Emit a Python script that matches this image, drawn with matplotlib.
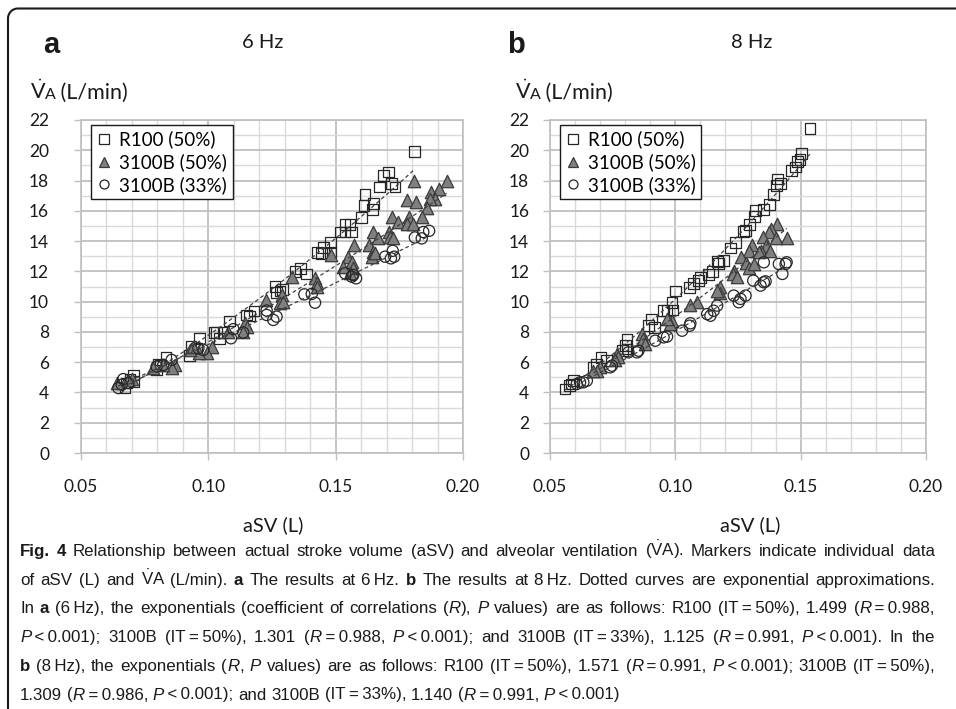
import re
import numpy as np
import matplotlib
matplotlib.use("Agg")
import matplotlib.pyplot as plt
from matplotlib.lines import Line2D

# ---------------- data ----------------
a_r100_x = [0.1809, 0.1707, 0.1687, 0.1671, 0.1733, 0.1720, 0.1615, 0.1611, 0.1648, 0.1645,
            0.1600, 0.1537, 0.1556, 0.1517, 0.1537, 0.1563, 0.1480, 0.1452, 0.1428, 0.1445,
            0.1480, 0.1363, 0.1340, 0.1386, 0.1262, 0.1281, 0.1292, 0.1268, 0.1150, 0.1163,
            0.1179, 0.1082, 0.1033, 0.1022, 0.1043, 0.1058, 0.0965, 0.0932, 0.0925, 0.0954,
            0.0834, 0.0804, 0.0797, 0.0810, 0.0705, 0.0708, 0.0673, 0.0680, 0.0692]
a_r100_y = [19.90, 18.57, 18.35, 17.58, 17.58, 17.80, 17.10, 16.37, 16.48, 16.10,
            15.56, 15.10, 15.10, 14.60, 14.60, 14.60, 13.90, 13.56, 13.23, 13.20,
            13.23, 12.20, 11.98, 11.82, 11.00, 10.70, 10.80, 10.60, 9.12, 9.05,
            9.38, 8.72, 7.98, 7.98, 7.54, 7.98, 7.54, 7.03, 6.42, 6.92,
            6.33, 5.87, 5.49, 5.80, 5.16, 4.73, 4.29, 4.62, 4.84]

a_b50_x = [0.1936, 0.1809, 0.1874, 0.1907, 0.1890, 0.1870, 0.1857, 0.1779, 0.1815, 0.1720,
           0.1789, 0.1838, 0.1744, 0.1779, 0.1802, 0.1648, 0.1709, 0.1668, 0.1713, 0.1726,
           0.1572, 0.1631, 0.1648, 0.1641, 0.1654, 0.1482, 0.1550, 0.1563, 0.1527, 0.1569,
           0.1556, 0.1330, 0.1419, 0.1428, 0.1425, 0.1226, 0.1288, 0.1281, 0.1292, 0.1144,
           0.1150, 0.1135, 0.1079, 0.1013, 0.0993, 0.0965, 0.0928, 0.0941, 0.0869, 0.0856,
           0.0784, 0.0823, 0.0699, 0.0640, 0.0686]
a_b50_y = [18.00, 18.00, 17.25, 17.47, 16.77, 16.80, 16.20, 16.70, 16.60, 15.60,
           15.60, 15.56, 15.27, 15.10, 15.10, 14.60, 14.60, 14.18, 14.29, 14.18,
           13.74, 13.74, 13.30, 12.97, 13.19, 13.08, 12.97, 12.64, 12.31, 12.20,
           11.87, 11.65, 11.54, 11.21, 10.99, 10.11, 10.44, 9.89, 9.99, 8.57,
           8.31, 8.02, 8.02, 6.99, 6.59, 6.59, 6.81, 7.03, 5.82, 5.60,
           5.60, 5.82, 4.88, 4.62, 4.84]

a_b33_x = [0.1867, 0.1844, 0.1811, 0.1838, 0.1724, 0.1694, 0.1717, 0.1730, 0.1537, 0.1569,
           0.1580, 0.1563, 0.1377, 0.1406, 0.1419, 0.1229, 0.1229, 0.1268, 0.1255, 0.1089,
           0.1098, 0.1137, 0.0961, 0.0980, 0.0856, 0.0823, 0.0797, 0.0666, 0.0647, 0.0686,
           0.0660]
a_b33_y = [14.68, 14.60, 14.24, 14.18, 13.36, 12.97, 12.86, 12.97, 11.87, 11.76,
           11.54, 11.65, 10.48, 10.51, 9.93, 9.41, 9.12, 9.01, 8.79, 7.58,
           8.18, 7.96, 6.92, 6.81, 6.15, 5.82, 5.71, 4.88, 4.29, 4.62,
           4.51]

b_r100_x = [0.1537, 0.1503, 0.1497, 0.1487, 0.1480, 0.1463, 0.1407, 0.1404, 0.1420, 0.1393,
            0.1376, 0.1353, 0.1320, 0.1316, 0.1297, 0.1273, 0.1280, 0.1240, 0.1220, 0.1191,
            0.1173, 0.1167, 0.1147, 0.1131, 0.1100, 0.1093, 0.1073, 0.1057, 0.1000, 0.0987,
            0.0991, 0.0967, 0.0953, 0.0904, 0.0893, 0.0917, 0.0807, 0.0800, 0.0807, 0.0790,
            0.0703, 0.0724, 0.0687, 0.0673, 0.0593, 0.0587, 0.0577, 0.0560]
b_r100_y = [21.45, 19.80, 19.40, 19.27, 18.90, 18.66, 18.10, 17.67, 17.80, 17.10,
            16.40, 16.10, 16.00, 15.60, 15.10, 14.65, 14.70, 13.90, 13.55, 12.70,
            12.50, 12.66, 12.00, 11.80, 11.60, 11.40, 11.20, 10.95, 10.70, 9.96,
            9.45, 9.40, 9.40, 8.86, 8.41, 8.30, 7.53, 7.09, 6.87, 6.76,
            6.32, 6.10, 5.88, 5.66, 4.78, 4.56, 4.45, 4.23]

b_b50_x = [0.1404, 0.1380, 0.1373, 0.1400, 0.1444, 0.1351, 0.1360, 0.1340, 0.1307, 0.1293,
           0.1333, 0.1377, 0.1263, 0.1280, 0.1293, 0.1313, 0.1236, 0.1231, 0.1247, 0.1177,
           0.1180, 0.1167, 0.1087, 0.1060, 0.0987, 0.0980, 0.0967, 0.0867, 0.0873, 0.0880,
           0.0769, 0.0773, 0.0760, 0.0700, 0.0687, 0.0673]
b_b50_y = [15.13, 14.80, 14.58, 14.20, 14.20, 14.25, 13.70, 13.37, 13.74, 13.37,
           13.26, 13.37, 12.97, 12.53, 12.20, 12.49, 12.05, 11.83, 11.60, 10.95,
           10.60, 10.70, 9.96, 9.80, 8.74, 8.52, 8.85, 7.86, 7.53, 7.20,
           6.54, 6.32, 6.14, 5.66, 5.40, 5.44]

b_b33_x = [0.1444, 0.1440, 0.1427, 0.1413, 0.1353, 0.1353, 0.1360, 0.1340, 0.1311, 0.1233,
           0.1260, 0.1253, 0.1280, 0.1167, 0.1153, 0.1140, 0.1127, 0.1057, 0.1060, 0.1027,
           0.0953, 0.0967, 0.0920, 0.0853, 0.0847, 0.0813, 0.0747, 0.0740, 0.0647, 0.0633,
           0.0620, 0.0607]
b_b33_y = [12.60, 12.49, 11.83, 12.49, 12.60, 11.28, 11.34, 11.06, 11.39, 10.40,
           10.18, 9.96, 10.40, 9.74, 9.40, 9.07, 9.18, 8.41, 8.57, 8.08,
           7.64, 7.69, 7.42, 6.76, 6.65, 6.65, 5.77, 5.66, 4.78, 4.67,
           4.67, 4.56]

series_labels = ["R100 (50%)", "3100B (50%)", "3100B (33%)"]
panel_titles = ["6 Hz", "8 Hz"]
panel_letters = ["a", "b"]
xtick_vals = [0.05, 0.10, 0.15, 0.20]
xtick_labels = ["0.05", "0.10", "0.15", "0.20"]
ytick_vals = list(range(0, 23, 2))
xlabel = "aSV (L)"

VDOT = r"$\dot{\mathrm{V}}$"
caption_lines = [
    "**Fig. 4** Relationship between actual stroke volume (aSV) and alveolar ventilation (" + VDOT + "A). Markers indicate individual data",
    "of aSV (L) and " + VDOT + "A (L/min). **a** The results at 6\u2009Hz. **b** The results at 8\u2009Hz. Dotted curves are exponential approximations.",
    "In **a** (6\u2009Hz), the exponentials (coefficient of correlations (*R*), *P* values) are as follows: R100 (IT\u2009=\u200950%), 1.499 (*R*\u2009=\u20090.988,",
    "*P*\u2009<\u20090.001); 3100B (IT\u2009=\u200950%), 1.301 (*R*\u2009=\u20090.988, *P*\u2009<\u20090.001); and 3100B (IT\u2009=\u200933%), 1.125 (*R*\u2009=\u20090.991, *P*\u2009<\u20090.001). In the",
    "**b** (8\u2009Hz), the exponentials (*R*, *P* values) are as follows: R100 (IT\u2009=\u200950%), 1.571 (*R*\u2009=\u20090.991, *P*\u2009<\u20090.001); 3100B (IT\u2009=\u200950%),",
    "1.309 (*R*\u2009=\u20090.986, *P*\u2009<\u20090.001); and 3100B (IT\u2009=\u200933%), 1.140 (*R*\u2009=\u20090.991, *P*\u2009<\u20090.001)",
]

# ---------------- figure ----------------
W, H = 956, 709
plt.rcParams["font.family"] = ["Lato", "DejaVu Sans"]
plt.rcParams["mathtext.fontset"] = "custom"
plt.rcParams["mathtext.rm"] = "Liberation Sans"
plt.rcParams["mathtext.sf"] = "Lato"
plt.rcParams["mathtext.it"] = "Liberation Sans:italic"
fig = plt.figure(figsize=(W / 100, H / 100), dpi=100)
fig.patch.set_facecolor("white")


def fx(px):
    return px / W


def fy(py):
    return 1 - py / H


renderer = fig.canvas.get_renderer()


def text_width(s, **kw):
    t1 = fig.text(0, 0, s + "|", **kw)
    t2 = fig.text(0, 0, "|", **kw)
    w = t1.get_window_extent(renderer).width - t2.get_window_extent(renderer).width
    t1.remove()
    t2.remove()
    return w


def draw_segments(x_px, ybase_px, segments):
    x = x_px
    for s, kw in segments:
        fig.text(fx(x), fy(ybase_px), s, va="baseline", ha="left", **kw)
        x += text_width(s, **kw)
    return x


SQ = dict(marker="s", facecolor="none", edgecolor="#262626", linewidth=0.9)
TR = dict(marker="^", facecolor="#7f7f7f", edgecolor="#3a3a3a", linewidth=0.9)
CI = dict(marker="o", facecolor="none", edgecolor="#262626", linewidth=0.9)


def power_fit_line(ax, x, y):
    x = np.asarray(x)
    y = np.asarray(y)
    b, lnc = np.polyfit(np.log(x), np.log(y), 1)
    xs = np.linspace(x.min(), x.max(), 100)
    ax.plot(xs, np.exp(lnc) * xs ** b, ls=(0, (3, 2.2)), color="#404040", lw=0.9, zorder=5)


def make_panel(rect, data, ypad):
    ax = fig.add_axes(rect)
    ax.set_xlim(0.05, 0.20)
    ax.set_ylim(0, 22)
    ax.set_xticks(xtick_vals)
    ax.set_xticklabels(xtick_labels)
    ax.set_yticks(ytick_vals)
    ax.set_xticks(np.arange(0.05, 0.2001, 0.01), minor=True)
    ax.set_yticks(np.arange(0, 22.01, 1), minor=True)
    ax.grid(which="major", color="#bfbfbf", lw=1.3)
    ax.grid(which="minor", color="#d9d9d9", lw=1.0)
    ax.set_axisbelow(True)
    ax.tick_params(which="minor", length=0)
    ax.tick_params(which="major", length=5, width=1.0, color="#bfbfbf", labelsize=12.5,
                   labelcolor="#1a1a1a")
    ax.tick_params(axis="y", pad=ypad)
    ax.tick_params(axis="x", pad=14)
    for s in ax.spines.values():
        s.set_color("#bfbfbf")
        s.set_linewidth(1.2)
    (rx, ry), (tx, ty), (cx, cy) = data
    ax.scatter(rx, ry, s=60, zorder=3, **SQ)
    ax.scatter(tx, ty, s=80, zorder=3, **TR)
    ax.scatter(cx, cy, s=65, zorder=3, **CI)
    for xx, yy in data:
        power_fit_line(ax, xx, yy)
    handles = [
        Line2D([], [], ls="none", marker="s", ms=6.5, mfc="none", mec="#262626", mew=0.9),
        Line2D([], [], ls="none", marker="^", ms=7.5, mfc="#7f7f7f", mec="#3a3a3a", mew=0.9),
        Line2D([], [], ls="none", marker="o", ms=6.5, mfc="none", mec="#262626", mew=0.9),
    ]
    leg = ax.legend(handles, series_labels, loc="upper left", bbox_to_anchor=(0.026, 0.985),
                    borderaxespad=0, fontsize=13.5, frameon=True, fancybox=False,
                    edgecolor="#1a1a1a", framealpha=1, handlelength=0.8,
                    handletextpad=0.4, labelspacing=0.25, borderpad=0.3)
    leg.get_frame().set_linewidth(1.0)
    leg.set_zorder(10)
    return ax


ax_a = make_panel([fx(81), fy(453), (463 - 81) / W, (453 - 120) / H],
                  [(a_r100_x, a_r100_y), (a_b50_x, a_b50_y), (a_b33_x, a_b33_y)], ypad=18)
ax_b = make_panel([fx(550), fy(453), (926 - 550) / W, (453 - 120) / H],
                  [(b_r100_x, b_r100_y), (b_b50_x, b_b50_y), (b_b33_x, b_b33_y)], ypad=10)

# panel letters and titles
fig.text(fx(43), fy(53), panel_letters[0], fontsize=21, weight="bold", family="Liberation Sans",
         va="baseline", ha="left", color="#1a1a1a")
fig.text(fx(507), fy(53), panel_letters[1], fontsize=21, weight="bold", family="Liberation Sans",
         va="baseline", ha="left", color="#1a1a1a")
fig.text(fx(263), fy(48), panel_titles[0], fontsize=14.5, va="baseline", ha="center", color="#1a1a1a")
fig.text(fx(752), fy(48), panel_titles[1], fontsize=14.5, va="baseline", ha="center", color="#1a1a1a")

# y axis labels
for x0 in (30, 515):
    draw_segments(x0, 99, [
        (r"$\dot{\mathsf{V}}$", dict(fontsize=15.5, color="#1a1a1a")),
        ("A", dict(fontsize=11.5, color="#1a1a1a")),
        (" (L/min)", dict(fontsize=15.5, color="#1a1a1a")),
    ])

# x axis labels
fig.text(fx(273), fy(525), xlabel, fontsize=14.5, ha="center", va="center", color="#1a1a1a")
fig.text(fx(750), fy(525), xlabel, fontsize=14.5, ha="center", va="center", color="#1a1a1a")

# caption (justified lines)
CAP = ["Liberation Sans", "DejaVu Sans"]
CAP_SIZE = 12.2
CAP_LEFT, CAP_RIGHT = 20, 935


def parse(line):
    parts = re.split(r"(\*\*.+?\*\*|\*.+?\*)", line)
    tokens = []
    for p in parts:
        if not p:
            continue
        kw = dict(fontsize=CAP_SIZE, family=CAP, color="#1a1a1a")
        if p.startswith("**"):
            p = p[2:-2]
            kw["weight"] = "bold"
        elif p.startswith("*"):
            p = p[1:-1]
            kw["style"] = "italic"
        words = p.split(" ")
        for j, wd in enumerate(words):
            if j > 0:
                tokens.append((None, kw))
            if wd:
                tokens.append((wd, kw))
    return tokens


def draw_caption_line(ybase, line, justify):
    tokens = parse(line)
    widths = []
    for s, kw in tokens:
        widths.append(text_width(" ", **kw) if s is None else text_width(s, **kw))
    nsp = sum(1 for s, _ in tokens if s is None)
    extra = 0.0
    if justify and nsp:
        extra = (CAP_RIGHT - CAP_LEFT - sum(widths)) / nsp
    x = CAP_LEFT
    for (s, kw), w in zip(tokens, widths):
        if s is None:
            x += w + extra
        else:
            fig.text(fx(x), fy(ybase), s, va="baseline", ha="left", **kw)
            x += w


for i, line in enumerate(caption_lines):
    draw_caption_line(556 + i * 28.7, line, justify=(i < len(caption_lines) - 1))

# rounded border (top and left)
r = 10
theta = np.linspace(np.pi / 2, np.pi, 20)
arc_x = 8 + r + r * np.cos(theta)
arc_y = 8.5 + r - r * np.sin(theta)
bx = np.concatenate([[W + 5], arc_x, [8, 8]])
by = np.concatenate([[8.5], arc_y, [8.5 + r, H + 5]])
fig.add_artist(Line2D(fx(bx), fy(by), color="#1a1a1a", lw=1.5, transform=fig.transFigure))

fig.savefig("out.png", dpi=100, facecolor="white")
